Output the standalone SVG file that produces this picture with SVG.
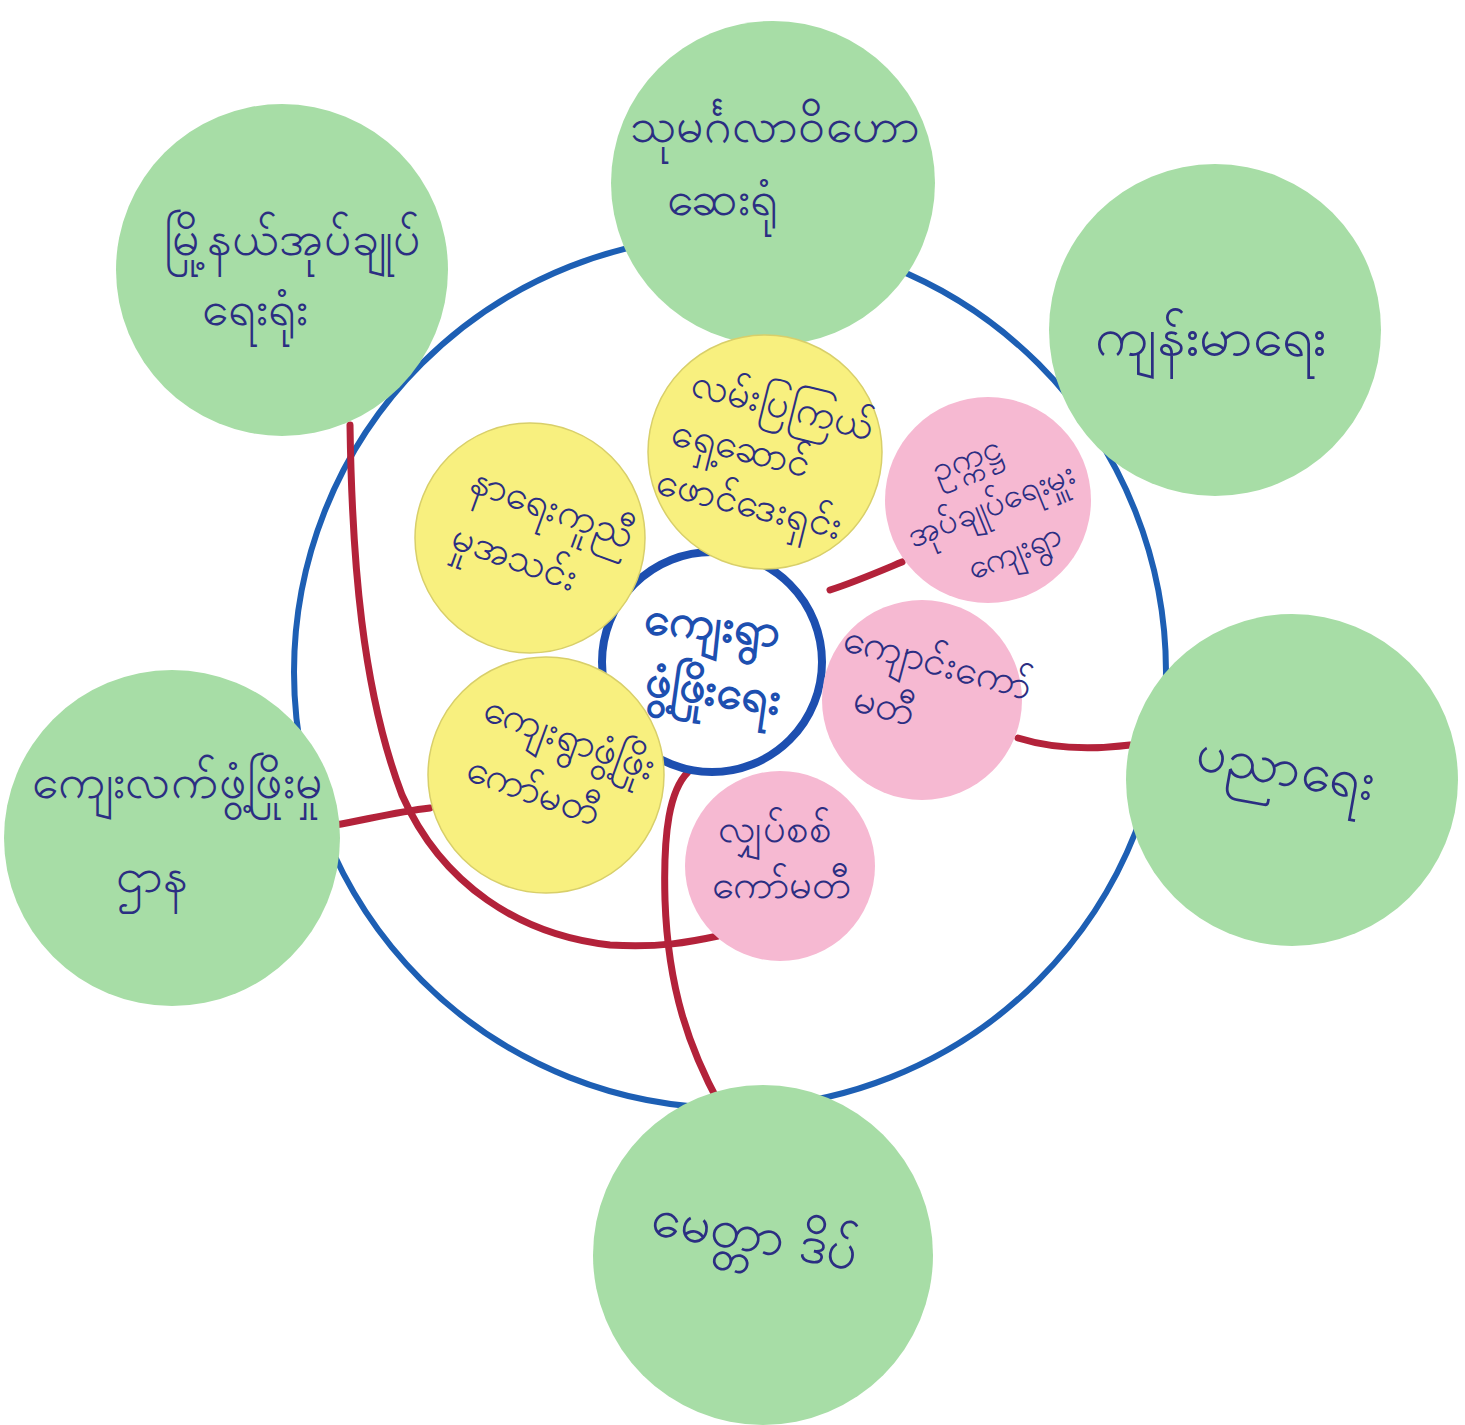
<svg xmlns="http://www.w3.org/2000/svg" width="1465" height="1425" viewBox="0 0 1465 1425">
<style>
.bg{fill:#ffffff}
.ring{fill:none;stroke:#1d5fb4;stroke-width:6}
.green{fill:#a7dda6}
.yellow{fill:#f8f07f;stroke:#d8cf6a;stroke-width:1.5}
.pink{fill:#f6b9d2}
.center{fill:#ffffff;stroke:#1d4fb0;stroke-width:8}
.link{fill:none;stroke:#b3223a;stroke-width:7;stroke-linecap:round}
.t{font-family:"Noto Sans","DejaVu Sans",sans-serif;font-size:40px;fill:#2b2e82;text-anchor:middle}
.g{font-size:48px}
.gl{font-size:54px}
.c{font-family:"Noto Sans","DejaVu Sans",sans-serif;font-size:46px;font-weight:bold;fill:#1d4fb0;text-anchor:middle}
</style>
<rect class="bg" x="0" y="0" width="1465" height="1425"/>
<circle class="ring" cx="730" cy="672" r="436"/>
<g id="connectors">
<path class="link" d="M350,425 C352,560 362,690 402,795 C442,885 520,935 610,945 C660,948 690,942 718,936"/>
<path class="link" d="M335,825 C365,820 395,812 430,808"/>
<path class="link" d="M720,1105 C690,1050 668,990 665,900 C663,830 670,790 688,772"/>
<path class="link" d="M830,590 C855,582 878,572 902,562"/>
<path class="link" d="M1018,738 C1050,748 1090,750 1130,745"/>
</g>
<g id="n-center"><circle class="center" cx="712" cy="662" r="110"/>
<text class="c" transform="rotate(6 712 630)" x="712" y="640">ကျေးရွာ</text>
<text class="c" transform="rotate(8 712 700)" x="712" y="705">ဖွံ့ဖြိုးရေး</text></g>
<g id="n-top"><circle class="green" cx="773" cy="183" r="162"/>
<text class="t g" x="775" y="142">သုမင်္ဂလာဝိဟော</text>
<text class="t g" x="722" y="215">ဆေးရုံ</text></g>
<g id="n-upleft"><circle class="green" cx="282" cy="270" r="166"/>
<text class="t g" x="292" y="255">မြို့နယ်အုပ်ချုပ်</text>
<text class="t g" x="255" y="325">ရေးရုံး</text></g>
<g id="n-upright"><circle class="green" cx="1215" cy="330" r="166"/>
<text class="t gl" x="1210" y="355">ကျန်းမာရေး</text></g>
<g id="n-right"><circle class="green" cx="1292" cy="780" r="166"/>
<text class="t gl" transform="rotate(10 1285 770)" x="1285" y="785">ပညာရေး</text></g>
<g id="n-left"><circle class="green" cx="172" cy="838" r="168"/>
<text class="t g" x="177" y="798">ကျေးလက်ဖွံ့ဖြိုးမှု</text>
<text class="t g" x="152" y="892">ဌာန</text></g>
<g id="n-bottom"><circle class="green" cx="763" cy="1255" r="170"/>
<text class="t gl" transform="rotate(10 755 1235)" x="755" y="1252">မေတ္တာ ဒိပ်</text></g>
<g id="n-yellow-top"><circle class="yellow" cx="765" cy="452" r="117"/>
<g transform="rotate(14 765 455)">
<text class="t" x="770" y="415">လမ်းပြကြယ်</text>
<text class="t" x="740" y="467">ရှေ့ဆောင်</text>
<text class="t" x="762" y="519">ဖောင်ဒေးရှင်း</text></g></g>
<g id="n-yellow-left"><circle class="yellow" cx="530" cy="538" r="115"/>
<g transform="rotate(20 530 540)">
<text class="t" x="540" y="515">နာရေးကူညီ</text>
<text class="t" x="522" y="574">မှုအသင်း</text></g></g>
<g id="n-yellow-low"><circle class="yellow" cx="546" cy="775" r="118"/>
<g transform="rotate(20 546 775)">
<text class="t" x="556" y="745">ကျေးရွာဖွံ့ဖြိုး</text>
<text class="t" x="540" y="807">ကော်မတီ</text></g></g>
<g id="n-pink-up"><circle class="pink" cx="988" cy="500" r="103"/>
<g transform="rotate(-22 988 505)">
<text class="t" x="985" y="465" style="font-size:34px">ဥက္ကဋ္ဌ</text>
<text class="t" x="990" y="517" style="font-size:34px">အုပ်ချုပ်ရေးမှူး</text>
<text class="t" x="995" y="569" style="font-size:34px">ကျေးရွာ</text></g></g>
<g id="n-pink-mid"><circle class="pink" cx="922" cy="700" r="100"/>
<g transform="rotate(15 922 690)">
<text class="t" x="930" y="672">ကျောင်းကော်</text>
<text class="t" x="890" y="728">မတီ</text></g></g>
<g id="n-pink-low"><circle class="pink" cx="780" cy="866" r="95"/>
<text class="t" x="775" y="842">လျှပ်စစ်</text>
<text class="t" x="782" y="898">ကော်မတီ</text></g>
</svg>
